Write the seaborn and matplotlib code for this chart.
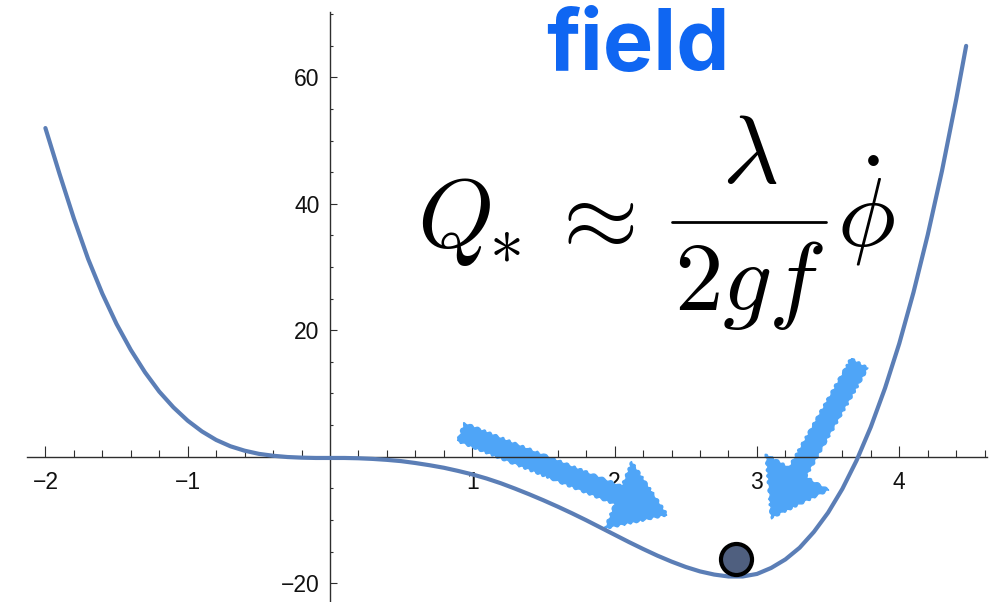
import numpy as np
import matplotlib
matplotlib.use("Agg")
import matplotlib.pyplot as plt
import seaborn as sns
from matplotlib.ticker import FixedLocator
from matplotlib.lines import Line2D

sns.set_theme(style="white")
plt.rcParams["font.family"] = ["Liberation Sans", "DejaVu Sans"]
plt.rcParams["mathtext.fontset"] = "cm"

# field value and potential
phi = [-2.0, -1.9, -1.8, -1.7, -1.6, -1.5, -1.4, -1.3, -1.2, -1.1,
       -1.0, -0.9, -0.8, -0.7, -0.6, -0.5, -0.4, -0.3, -0.2, -0.1,
       0.0, 0.1, 0.2, 0.3, 0.4, 0.5, 0.6, 0.7, 0.8, 0.9,
       1.0, 1.1, 1.2, 1.3, 1.4, 1.5, 1.6, 1.7, 1.8, 1.9,
       2.0, 2.1, 2.2, 2.3, 2.4, 2.5, 2.6, 2.7, 2.8, 2.9,
       3.0, 3.1, 3.2, 3.3, 3.4, 3.5, 3.6, 3.7, 3.8, 3.9,
       4.0, 4.1, 4.2, 4.3, 4.4, 4.47]
potential = [52.0, 44.7, 37.7, 31.3, 25.8, 21.0, 16.9, 13.35, 10.3, 7.8,
             5.7, 4.0, 2.65, 1.65, 0.95, 0.45, 0.15, -0.05, -0.15, -0.2,
             -0.2, -0.2, -0.25, -0.35, -0.5, -0.7, -1.0, -1.35, -1.75, -2.25,
             -2.8, -3.45, -4.2, -5.05, -5.95, -6.9, -7.9, -8.95, -10.05, -11.2,
             -12.35, -13.5, -14.6, -15.65, -16.6, -17.45, -18.15, -18.65, -18.95, -18.95,
             -18.55, -17.6, -16.25, -14.4, -11.9, -8.85, -5.1, -0.6, 4.7, 10.85,
             17.9, 26.0, 35.1, 45.2, 56.5, 65.0]

ball = (2.85, -16.2)

x_major = [-2, -1, 1, 2, 3, 4]
y_major = [-20, 20, 40, 60]
x_minor = [v / 10 for v in range(-20, 47, 2) if v % 10 != 0]
y_minor = [v for v in range(-20, 71, 5) if v % 20 != 0]

curve_color = "#5B7EB6"
crayon = "#4FA5F7"
axis_color = "#2e2e2e"


def fx(px):
    return px / 1004


def fy(py):
    return 1 - py / 602


fig = plt.figure(figsize=(10.04, 6.02), dpi=100)
ax = fig.add_axes([0, 0, 1, 1])
ax.set_facecolor("white")

sns.lineplot(x=phi, y=potential, ax=ax, color=curve_color, linewidth=3.0, zorder=3)

ax.set_xlim(-2.319, 4.736)
ax.set_ylim(-22.99, 72.26)

for side in ["top", "right"]:
    ax.spines[side].set_visible(False)
for side in ["left", "bottom"]:
    ax.spines[side].set_position(("data", 0))
    ax.spines[side].set_color(axis_color)
    ax.spines[side].set_linewidth(1.0)
ax.spines["left"].set_bounds(-23, 70.4)
ax.spines["bottom"].set_bounds(-2.13, 4.62)

ax.xaxis.set_major_locator(FixedLocator(x_major))
ax.xaxis.set_minor_locator(FixedLocator(x_minor))
ax.yaxis.set_major_locator(FixedLocator(y_major))
ax.yaxis.set_minor_locator(FixedLocator(y_minor))
ax.set_xticklabels([str(v).replace("-", "\u2212") for v in x_major])
ax.set_yticklabels([str(v).replace("-", "\u2212") for v in y_major])
ax.tick_params(axis="x", which="major", direction="in", length=7.7, width=0.8,
               color=axis_color, labelsize=16.5, pad=10.5, labelcolor="#111111")
ax.tick_params(axis="x", which="minor", direction="in", length=5.0, width=0.8,
               color=axis_color)
ax.tick_params(axis="y", which="major", direction="in", length=4.8, width=0.8,
               color=axis_color, labelsize=16.5, pad=7.5, labelcolor="#111111")
ax.tick_params(axis="y", which="minor", direction="in", length=2.4, width=0.8,
               color=axis_color)
ax.tick_params(bottom=True, left=True, which="both")
ax.grid(False)
ax.set_xlabel("")
ax.set_ylabel("")

# hand drawn arrows
arrow_style = "simple,head_length=1.9,head_width=2.6,tail_width=0.7"
for tail, tip in [((0.92, 3.9), (2.37, -9.2)), ((3.72, 14.8), (3.10, -9.7))]:
    ann = ax.annotate("", xy=tip, xytext=tail,
                      arrowprops=dict(arrowstyle=arrow_style, color=crayon,
                                      mutation_scale=20, shrinkA=0, shrinkB=0),
                      zorder=2)
    ann.arrow_patch.set_sketch_params(1.0, 8, 2)

ax.scatter([ball[0]], [ball[1]], s=500, color="#4F5F7F", edgecolor="black",
           linewidth=3, zorder=5)

fig.text(fx(638), fy(70), "field", color="#0F66F2", fontsize=61, fontweight="bold",
         family=["Inter", "DejaVu Sans"], ha="center", va="baseline")

# formula, set piece by piece
eq_size = 70
ink = "black"
fig.text(fx(417), fy(247), r"$Q$", fontsize=eq_size, ha="left", va="baseline", color=ink)
fig.text(fx(505), fy(262), r"$*$", fontsize=eq_size * 0.7, ha="center", va="baseline", color=ink)
fig.text(fx(545), fy(247), r"$\approx$", fontsize=eq_size, ha="left", va="baseline", color=ink)
fig.text(fx(750), fy(183), r"$\lambda$", fontsize=eq_size, ha="center", va="baseline", color=ink)
fig.text(fx(749), fy(310), r"$2gf$", fontsize=eq_size, ha="center", va="baseline", color=ink)
fig.text(fx(837), fy(247), r"$\dot{\phi}$", fontsize=eq_size, ha="left", va="baseline", color=ink)
fig.add_artist(Line2D([fx(672), fx(826)], [fy(222), fy(222)], color=ink,
                      linewidth=2.0, transform=fig.transFigure))

fig.savefig("out.png", dpi=100, facecolor="white")
